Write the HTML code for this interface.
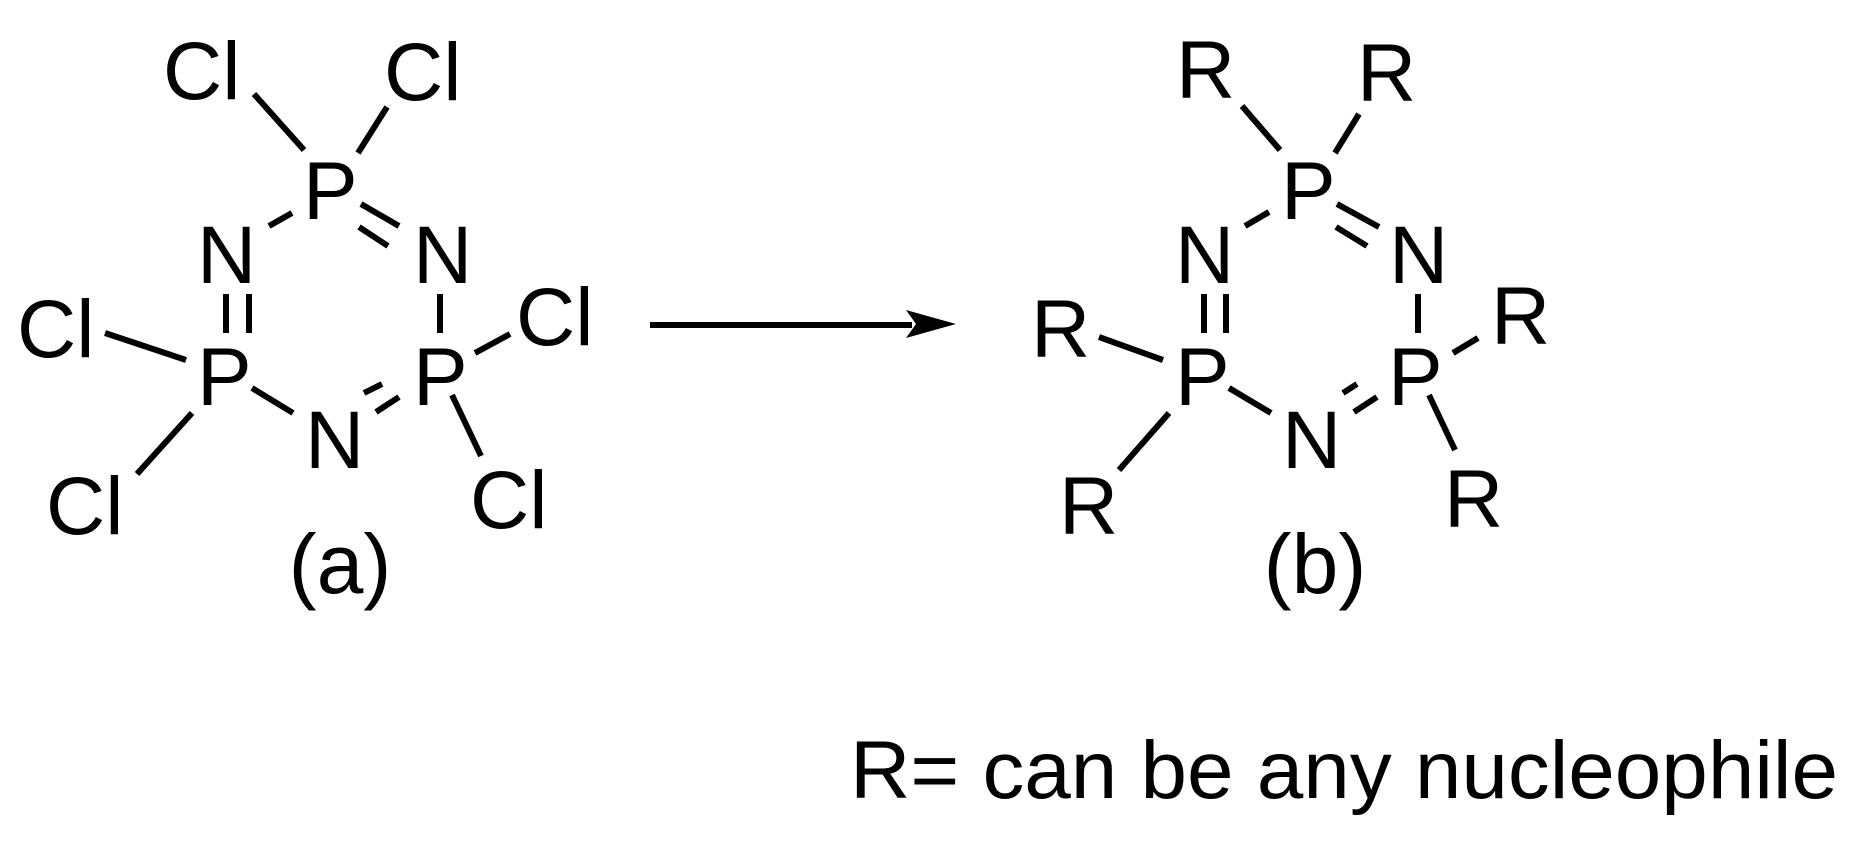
<!DOCTYPE html>
<html><head><meta charset="utf-8"><style>
html,body{margin:0;padding:0;background:#fff;}
svg{display:block;}
text{font-family:"Liberation Sans",Arial,sans-serif;font-size:82px;fill:#000;}
line{stroke:#000;stroke-width:6;}
</style></head><body>
<svg width="1855" height="846" viewBox="0 0 1855 846" xmlns="http://www.w3.org/2000/svg">
<!-- Left molecule -->
<text x="163" y="99">Cl</text>
<text x="384" y="100">Cl</text>
<text x="303" y="219">P</text>
<text x="197" y="283">N</text>
<text x="413" y="283">N</text>
<text x="197" y="405">P</text>
<text x="413" y="405">P</text>
<text x="305" y="468">N</text>
<text x="17" y="357">Cl</text>
<text x="516" y="345">Cl</text>
<text x="46" y="534">Cl</text>
<text x="470" y="528">Cl</text>
<text x="340" y="593" text-anchor="middle" style="font-size:84px">(a)</text>
<line x1="254" y1="94" x2="304" y2="150"/>
<line x1="387" y1="107" x2="358" y2="153"/>
<line x1="292" y1="213" x2="269" y2="226"/>
<line x1="361" y1="204" x2="399" y2="226"/>
<line x1="359" y1="227" x2="388" y2="246"/>
<line x1="226" y1="294" x2="226" y2="333"/>
<line x1="249" y1="294" x2="249" y2="333"/>
<line x1="440" y1="294" x2="440" y2="333"/>
<line x1="105" y1="333" x2="186" y2="360"/>
<line x1="252" y1="388" x2="293" y2="413"/>
<line x1="364" y1="393" x2="382" y2="384"/>
<line x1="376" y1="412" x2="399" y2="397"/>
<line x1="475" y1="353" x2="510" y2="334"/>
<line x1="452" y1="395" x2="481" y2="456"/>
<line x1="192" y1="413" x2="137" y2="474"/>
<!-- Arrow -->
<line x1="650" y1="325" x2="912" y2="325"/>
<polygon points="906,310 956,324 906,338 916,324" fill="#000"/>
<!-- Right molecule -->
<text x="1176" y="98">R</text>
<text x="1357" y="101">R</text>
<text x="1281" y="219">P</text>
<text x="1175" y="283">N</text>
<text x="1389" y="283">N</text>
<text x="1175" y="405">P</text>
<text x="1388" y="405">P</text>
<text x="1282" y="468">N</text>
<text x="1031" y="357">R</text>
<text x="1491" y="344">R</text>
<text x="1059" y="534">R</text>
<text x="1444" y="527">R</text>
<text x="1315" y="593" text-anchor="middle" style="font-size:84px">(b)</text>
<line x1="1242" y1="106" x2="1280" y2="150"/>
<line x1="1359" y1="114" x2="1335" y2="153"/>
<line x1="1269" y1="212" x2="1245" y2="226"/>
<line x1="1337" y1="204" x2="1379" y2="227"/>
<line x1="1336" y1="227" x2="1367" y2="246"/>
<line x1="1204" y1="294" x2="1204" y2="333"/>
<line x1="1226" y1="294" x2="1226" y2="333"/>
<line x1="1418" y1="294" x2="1418" y2="333"/>
<line x1="1099" y1="337" x2="1163" y2="360"/>
<line x1="1229" y1="388" x2="1271" y2="413"/>
<line x1="1343" y1="393" x2="1357" y2="384"/>
<line x1="1354" y1="412" x2="1377" y2="397"/>
<line x1="1453" y1="353" x2="1478" y2="338"/>
<line x1="1429" y1="395" x2="1455" y2="450"/>
<line x1="1169" y1="413" x2="1119" y2="470"/>
<!-- Caption -->
<text x="850" y="798" textLength="988" lengthAdjust="spacingAndGlyphs">R= can be any nucleophile</text>
</svg>
</body></html>
